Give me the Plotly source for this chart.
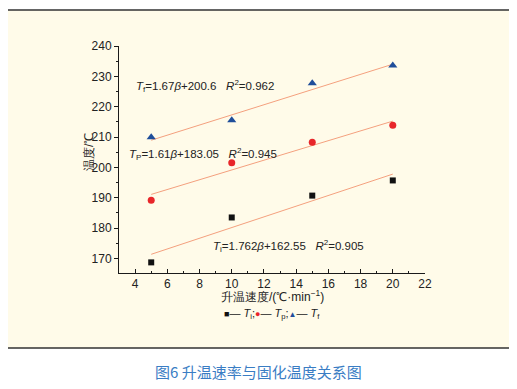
import plotly.graph_objects as go

rate = [5, 10, 15, 20]
T_i = [168.7, 183.5, 190.7, 195.7]
T_p = [189.2, 201.5, 208.3, 213.9]
T_f = [209.9, 215.5, 227.7, 233.6]

fit_slope = {"Ti": 1.762, "Tp": 1.61, "Tf": 1.67}
fit_icpt = {"Ti": 162.55, "Tp": 183.05, "Tf": 200.6}
fit_x = [5, 20]

x_ticks = [4, 6, 8, 10, 12, 14, 16, 18, 20, 22]
y_ticks = [170, 180, 190, 200, 210, 220, 230, 240]

OFF = 8  # page body margin
W, H = 509, 381
pw, ph = 306, 227
L, T = 119 - OFF, 46 - OFF
R = W - L - pw
B = H - T - ph

def px2paper_x(px):
    return (px - OFF - L) / pw

def px2paper_y(py):
    return (T + ph - (py - OFF)) / ph

FONT = "Liberation Sans, Arial, sans-serif"
LINE_C = "#F4A07E"
AX_C = "#1a1a1a"

fig = go.Figure()

for key in ["Ti", "Tp", "Tf"]:
    fig.add_trace(go.Scatter(
        x=fit_x, y=[fit_slope[key] * v + fit_icpt[key] for v in fit_x],
        mode="lines", line=dict(color=LINE_C, width=1), showlegend=False,
        hoverinfo="skip"))

fig.add_trace(go.Scatter(x=rate, y=T_i, mode="markers",
                         marker=dict(symbol="square", size=6, color="#111111"), showlegend=False))
fig.add_trace(go.Scatter(x=rate, y=T_p, mode="markers",
                         marker=dict(symbol="circle", size=7, color="#E8262A"), showlegend=False))
fig.add_trace(go.Scatter(x=rate, y=T_f, mode="markers",
                         marker=dict(symbol="triangle-up", size=8, color="#1F4E9A"), showlegend=False))

fig.add_shape(type="rect", xref="paper", yref="paper",
              x0=px2paper_x(6), x1=px2paper_x(511),
              y0=px2paper_y(348), y1=px2paper_y(10),
              fillcolor="#FFFBE9", line=dict(color="#333333", width=1.5),
              layer="below")

ann_font = dict(family=FONT, size=11.5, color="#222222")
fig.add_annotation(x=px2paper_x(134), y=px2paper_y(86), xref="paper", yref="paper",
                   xanchor="left", yanchor="middle", showarrow=False, font=ann_font,
                   text="<i>T</i><sub>f</sub>=1.67<i>β</i>+200.6&nbsp;&nbsp;&nbsp;<i>R</i><sup>2</sup>=0.962")
fig.add_annotation(x=px2paper_x(127), y=px2paper_y(154), xref="paper", yref="paper",
                   xanchor="left", yanchor="middle", showarrow=False, font=ann_font,
                   text="<i>T</i><sub>P</sub>=1.61<i>β</i>+183.05&nbsp;&nbsp;&nbsp;<i>R</i><sup>2</sup>=0.945")
fig.add_annotation(x=px2paper_x(211), y=px2paper_y(246), xref="paper", yref="paper",
                   xanchor="left", yanchor="middle", showarrow=False, font=ann_font,
                   text="<i>T</i><sub>i</sub>=1.762<i>β</i>+162.55&nbsp;&nbsp;&nbsp;<i>R</i><sup>2</sup>=0.905")

fig.add_annotation(x=px2paper_x(272), y=px2paper_y(296), xref="paper", yref="paper",
                   xanchor="center", yanchor="middle", showarrow=False,
                   font=dict(family=FONT, size=12, color="#222222"),
                   text="升温速度/(℃·min<sup>−1</sup>)")
fig.add_annotation(x=px2paper_x(272), y=px2paper_y(314), xref="paper", yref="paper",
                   xanchor="center", yanchor="middle", showarrow=False,
                   font=dict(family=FONT, size=11, color="#222222"),
                   text=("<span style='color:#111111;font-size:9px'>■</span>— <i>T</i><sub>i</sub>;"
                         "<span style='color:#E8262A;font-size:9px'>●</span>— <i>T</i><sub>p</sub>;"
                         "<span style='color:#1F4E9A;font-size:8px'>▲</span>— <i>T</i><sub>f</sub>"))
fig.add_annotation(x=px2paper_x(89), y=px2paper_y(152), xref="paper", yref="paper",
                   xanchor="center", yanchor="middle", showarrow=False, textangle=-90,
                   font=dict(family=FONT, size=12, color="#222222"),
                   text="温度/℃")
fig.add_annotation(x=px2paper_x(258), y=px2paper_y(371), xref="paper", yref="paper",
                   xanchor="center", yanchor="middle", showarrow=False,
                   font=dict(family="Noto Sans CJK SC, sans-serif", size=15, color="#3A7DC4"),
                   text="图6 升温速率与固化温度关系图")

axis_common = dict(showgrid=False, zeroline=False, showline=True, linecolor=AX_C,
                   linewidth=1, tickwidth=1, tickcolor=AX_C,
                   tickfont=dict(family=FONT, size=12, color="#222222"), mirror=False)

fig.update_xaxes(range=[3, 22], tickvals=x_ticks, ticks="inside", ticklen=4,
                 minor=dict(dtick=1, tick0=3, ticks="inside", ticklen=2, tickcolor=AX_C),
                 **axis_common)
fig.update_yaxes(range=[165.2, 240], tickvals=y_ticks, ticks="outside", ticklen=4,
                 minor=dict(dtick=5, tick0=165, ticks="outside", ticklen=2, tickcolor=AX_C),
                 **axis_common)

fig.update_layout(width=W, height=H, margin=dict(l=L, r=R, t=T, b=B, pad=0),
                  paper_bgcolor="white", plot_bgcolor="rgba(0,0,0,0)", showlegend=False)

fig.write_html("out.html")
